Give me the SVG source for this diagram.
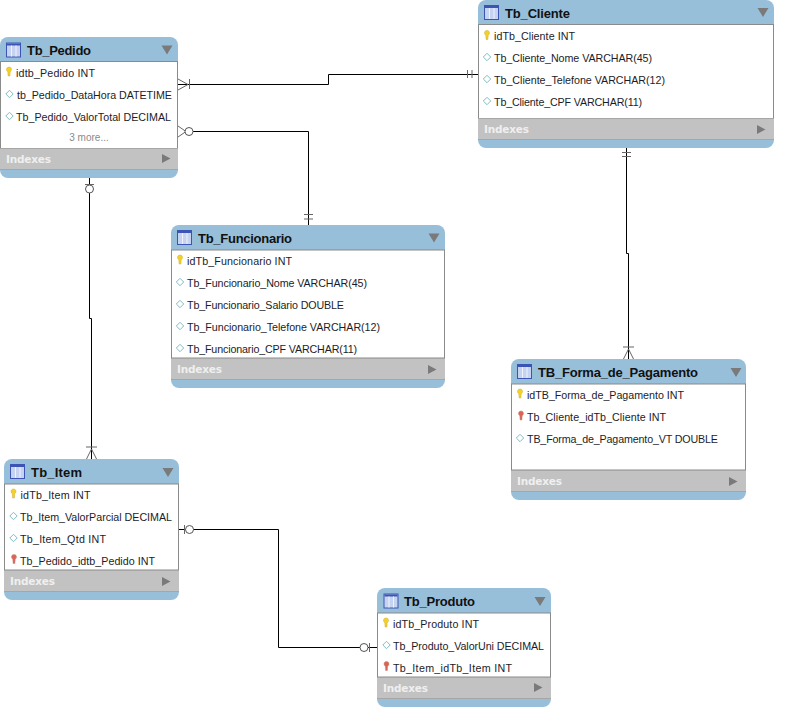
<svg xmlns="http://www.w3.org/2000/svg" width="793" height="726" viewBox="0 0 793 726">
<style>
text{font-family:"Liberation Sans",Arial,sans-serif}
.t{font-size:13px;font-weight:700;fill:#111}
.c{font-size:10.7px;fill:#1c1c28}
.m{font-size:10px;fill:#8a8a8a;text-anchor:middle}
.i{font-family:"DejaVu Sans",sans-serif;font-size:10.500px;font-weight:700;fill:#efefef}
.o{fill:#98bfda}
.b{fill:#fff;stroke:#8a8a8a;stroke-width:1}
.x{fill:#c2c2c2}
.s{stroke:#a6a6a6;stroke-width:1;fill:none}
.l{fill:none;stroke:#000;stroke-width:1}
.k{fill:none;stroke:#666;stroke-width:1}
.w{fill:#fff;stroke:#555;stroke-width:1}
</style>
<defs>
<g id="tbl"><rect x="0.500" y="0.500" width="14" height="14" fill="#c5d3f0" stroke="#3c55b4"/><rect x="1" y="1" width="13" height="2" fill="#3c55b4"/><path d="M5.500 3V14M10 3V14" stroke="#eef2fb" fill="none"/></g>
<path id="key" d="M0-4.500C-1.800-4.500-2.500-3.200-2.500-2C-2.500-.8-1.800-.2-1.200.2L-.9 4.500H.9L1.200.2C1.800-.2 2.500-.8 2.500-2C2.500-3.200 1.800-4.500 0-4.500Z" fill="#f2d128" stroke="#d0ad30" stroke-width=".5"/>
<path id="fk" d="M0-4.500C-1.800-4.500-2.500-3.200-2.500-2C-2.500-.8-1.800-.2-1.200.2L-.9 4.500H.9L1.200.2C1.800-.2 2.500-.8 2.500-2C2.500-3.200 1.800-4.500 0-4.500Z" fill="#dd6455" stroke="#c08a80" stroke-width=".5"/>
<path id="dia" d="M0-3.700L3.700 0L0 3.700L-3.700 0Z" fill="#fff" stroke="#7fbcc2"/>
<path id="dn" d="M0 0H11L5.500 9Z" fill="#7a7a7a"/>
<path id="rt" d="M0 0L8.500 4.500L0 9Z" fill="#7a7a7a"/>
</defs>
<g id="connectors">
<path class="l" d="M178 84.500H328.500V74.500H478"/>
<path class="k" d="M189.500 79V89M178 79L188 84.500L178 90"/>
<path class="k" d="M467.500 70V78M472 70V78"/>
<path class="l" d="M185 131.500H308.500V225"/>
<path class="k" d="M178 126L186 131.500L178 137"/>
<circle class="w" cx="189" cy="131.500" r="4"/>
<path class="k" d="M304 214.500H313M304 219H313"/>
<path class="l" d="M89.500 178V318.500H91.500V459"/>
<path class="k" d="M85 184.500H94"/>
<circle class="w" cx="89.500" cy="189" r="4"/>
<path class="k" d="M86 447H97M86.500 459L91.500 449L96.500 459"/>
<path class="l" d="M626.500 148V253.500H628.500V359"/>
<path class="k" d="M622 152.500H631M622 156.500H631"/>
<path class="k" d="M623 347H634M623.500 359L628.500 349L633.500 359"/>
<path class="l" d="M179 529.500H278.500V647.500H377"/>
<path class="k" d="M184.500 525V534"/>
<circle class="w" cx="189.500" cy="529.500" r="4"/>
<circle class="w" cx="364" cy="647.500" r="4"/>
<path class="k" d="M369.500 643V652"/>
</g>
<g id="tb-pedido">
<rect class="o" x="0" y="37" width="178" height="141" rx="8"/>
<rect class="b" x="0.500" y="61.500" width="177" height="87"/>
<rect class="x" x="0" y="148" width="178" height="21"/>
<path class="s" d="M0 148.500H178M0 169.500H178"/>
<use href="#tbl" x="6" y="42.500"/>
<text class="t" x="27" y="55" textLength="64">Tb_Pedido</text>
<use href="#dn" x="161.500" y="45.500"/>
<use href="#key" x="9" y="71.500"/>
<text class="c" x="16" y="77" textLength="79">idtb_Pedido INT</text>
<use href="#dia" x="9.500" y="94"/>
<text class="c" x="17" y="99" textLength="155">tb_Pedido_DataHora DATETIME</text>
<use href="#dia" x="9.500" y="116"/>
<text class="c" x="16" y="121" textLength="155">Tb_Pedido_ValorTotal DECIMAL</text>
<text class="m" x="89" y="141">3 more...</text>
<text class="i" x="6" y="163" textLength="45">Indexes</text>
<use href="#rt" x="162" y="154"/>
</g>
<g id="tb-cliente">
<rect class="o" x="478" y="0" width="296" height="148" rx="8"/>
<rect class="b" x="478.500" y="24.500" width="295" height="94"/>
<rect class="x" x="478" y="118" width="296" height="21"/>
<path class="s" d="M478 118.500H774M478 139.500H774"/>
<use href="#tbl" x="484" y="5"/>
<text class="t" x="505" y="18" textLength="65">Tb_Cliente</text>
<use href="#dn" x="757.500" y="8"/>
<use href="#key" x="487" y="35"/>
<text class="c" x="494" y="40" textLength="81">idTb_Cliente INT</text>
<use href="#dia" x="487" y="57"/>
<text class="c" x="494" y="62" textLength="158">Tb_Cliente_Nome VARCHAR(45)</text>
<use href="#dia" x="487" y="79"/>
<text class="c" x="494" y="84" textLength="171">Tb_Cliente_Telefone VARCHAR(12)</text>
<use href="#dia" x="487" y="101"/>
<text class="c" x="494" y="106" textLength="148">Tb_Cliente_CPF VARCHAR(11)</text>
<text class="i" x="484" y="133" textLength="45">Indexes</text>
<use href="#rt" x="757" y="125"/>
</g>
<g id="tb-funcionario">
<rect class="o" x="171" y="225" width="274" height="163" rx="8"/>
<rect class="b" x="171.500" y="250" width="273" height="108"/>
<rect class="x" x="171" y="358" width="274" height="21.500"/>
<path class="s" d="M171 358.500H445M171 379.500H445"/>
<use href="#tbl" x="177" y="230"/>
<text class="t" x="198" y="243" textLength="94">Tb_Funcionario</text>
<use href="#dn" x="428.500" y="233.500"/>
<use href="#key" x="180" y="259.500"/>
<text class="c" x="187" y="265" textLength="105">idTb_Funcionario INT</text>
<use href="#dia" x="180" y="282"/>
<text class="c" x="187" y="287" textLength="180">Tb_Funcionario_Nome VARCHAR(45)</text>
<use href="#dia" x="180" y="304"/>
<text class="c" x="187" y="309" textLength="157">Tb_Funcionario_Salario DOUBLE</text>
<use href="#dia" x="180" y="326"/>
<text class="c" x="187" y="331" textLength="193">Tb_Funcionario_Telefone VARCHAR(12)</text>
<use href="#dia" x="180" y="348"/>
<text class="c" x="187" y="353" textLength="170">Tb_Funcionario_CPF VARCHAR(11)</text>
<text class="i" x="177" y="373" textLength="45">Indexes</text>
<use href="#rt" x="428" y="365"/>
</g>
<g id="tb-forma-de-pagamento">
<rect class="o" x="511" y="359" width="235" height="141" rx="8"/>
<rect class="b" x="511.500" y="384" width="234" height="86"/>
<rect class="x" x="511" y="470" width="235" height="21.500"/>
<path class="s" d="M511 470.500H746M511 491.500H746"/>
<use href="#tbl" x="517" y="364"/>
<text class="t" x="538" y="377" textLength="160">TB_Forma_de_Pagamento</text>
<use href="#dn" x="730.500" y="368"/>
<use href="#key" x="520" y="393.500"/>
<text class="c" x="527" y="399" textLength="157">idTB_Forma_de_Pagamento INT</text>
<use href="#fk" x="521" y="415.500"/>
<text class="c" x="527" y="421" textLength="139">Tb_Cliente_idTb_Cliente INT</text>
<use href="#dia" x="520" y="438"/>
<text class="c" x="527" y="443" textLength="191">TB_Forma_de_Pagamento_VT DOUBLE</text>
<text class="i" x="517" y="485" textLength="45">Indexes</text>
<use href="#rt" x="729" y="477"/>
</g>
<g id="tb-item">
<rect class="o" x="4" y="459" width="175" height="141" rx="8"/>
<rect class="b" x="4.500" y="484" width="174" height="86"/>
<rect class="x" x="4" y="570" width="175" height="21.500"/>
<path class="s" d="M4 570.500H179M4 591.500H179"/>
<use href="#tbl" x="10" y="464"/>
<text class="t" x="31" y="477" textLength="51">Tb_Item</text>
<use href="#dn" x="162.500" y="468"/>
<use href="#key" x="13.500" y="493.500"/>
<text class="c" x="20.500" y="499" textLength="70">idTb_Item INT</text>
<use href="#dia" x="13.500" y="516"/>
<text class="c" x="20" y="521" textLength="152">Tb_Item_ValorParcial DECIMAL</text>
<use href="#dia" x="13.500" y="538"/>
<text class="c" x="20" y="543" textLength="86">Tb_Item_Qtd INT</text>
<use href="#fk" x="14" y="559"/>
<text class="c" x="20" y="565" textLength="135">Tb_Pedido_idtb_Pedido INT</text>
<text class="i" x="10" y="585" textLength="45">Indexes</text>
<use href="#rt" x="162" y="577"/>
</g>
<g id="tb-produto">
<rect class="o" x="377" y="588" width="174" height="119" rx="8"/>
<rect class="b" x="377.500" y="613" width="173" height="64"/>
<rect class="x" x="377" y="677" width="174" height="21"/>
<path class="s" d="M377 677.500H551M377 698.500H551"/>
<use href="#tbl" x="383.500" y="593.500"/>
<text class="t" x="404" y="606" textLength="71">Tb_Produto</text>
<use href="#dn" x="534.500" y="597"/>
<use href="#key" x="386" y="622.500"/>
<text class="c" x="393" y="628" textLength="86">idTb_Produto INT</text>
<use href="#dia" x="386.500" y="645"/>
<text class="c" x="393" y="650" textLength="151">Tb_Produto_ValorUni DECIMAL</text>
<use href="#fk" x="386.500" y="666"/>
<text class="c" x="393" y="672" textLength="119">Tb_Item_idTb_Item INT</text>
<text class="i" x="383" y="692" textLength="45">Indexes</text>
<use href="#rt" x="534" y="683"/>
</g>
</svg>
